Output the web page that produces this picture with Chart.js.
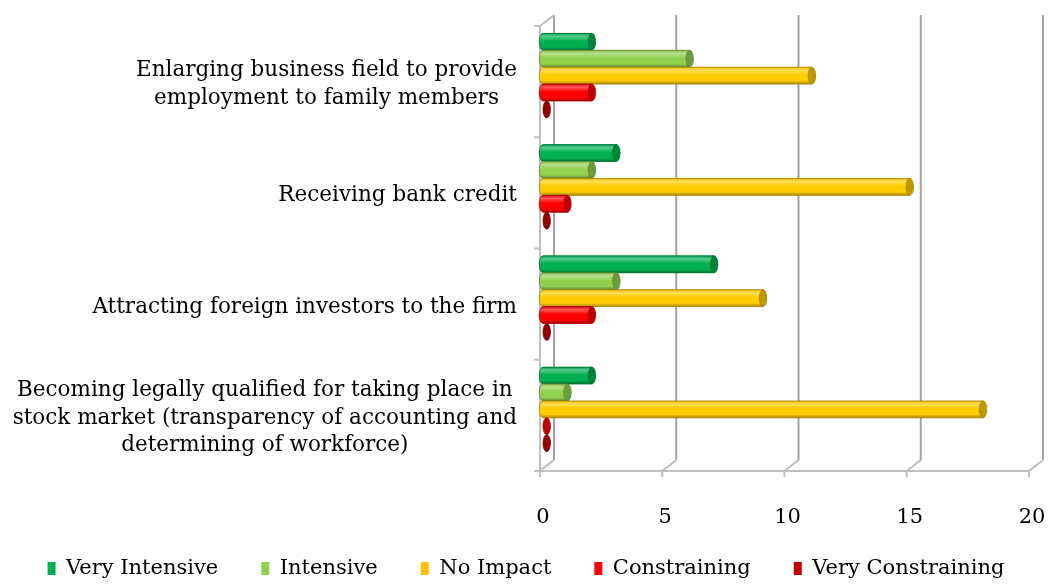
<!DOCTYPE html>
<html>
<head>
<meta charset="utf-8">
<script src="https://cdn.jsdelivr.net/npm/chart.js@4.4.1/dist/chart.umd.min.js"></script>
<style>
  html, body { margin: 0; padding: 0; background: #fff; }
</style>
</head>
<body>
<canvas id="chart" width="1052" height="584"></canvas>
<script>
const categories = [
  ['Enlarging business field to provide', 'employment to family members'],
  ['Receiving bank credit'],
  ['Attracting foreign investors to the firm'],
  ['Becoming legally qualified for taking place in', 'stock market (transparency of accounting and', 'determining of workforce)']
];
const seriesNames = ['Very Intensive', 'Intensive', 'No Impact', 'Constraining', 'Very Constraining'];
const veryIntensive = [2, 3, 7, 2];
const intensive = [6, 2, 3, 1];
const noImpact = [11, 15, 9, 18];
const constraining = [2, 1, 2, 0];
const veryConstraining = [0, 0, 0, 0];
const xTicks = [0, 5, 10, 15, 20];

const legendColors = ['#00b050', '#92d050', '#ffc000', '#ff0000', '#c00000'];
const barColors = ['#00b050', '#92d050', '#ffcc00', '#ff0000', '#c00000'];
const FONT = "'DejaVu Serif', serif";

// lighten (amt > 0) or darken (amt < 0) a hex colour
function shade(hex, amt) {
  const n = parseInt(hex.slice(1), 16);
  const t = amt < 0 ? 0 : 255, p = Math.abs(amt);
  const mix = c => Math.round(c + (t - c) * p);
  return `rgb(${mix(n >> 16)},${mix((n >> 8) & 255)},${mix(n & 255)})`;
}

// ── fake 3D walls / floor (Excel look) ──
const DEPTH = { fx: -3, fy: 6, bx: 11, by: -5 };
const frame3d = {
  id: 'frame3d',
  beforeDatasetsDraw(chart) {
    const { ctx, chartArea: a, scales: { x } } = chart;
    const { fx, fy, bx, by } = DEPTH;
    ctx.save();
    ctx.lineWidth = 2;
    ctx.strokeStyle = '#a3a3a3';
    xTicks.forEach(v => {
      const px = x.getPixelForValue(v);
      ctx.beginPath();
      ctx.moveTo(px + bx, a.top + by);
      ctx.lineTo(px + bx, a.bottom + by);
      ctx.stroke();
    });
    ctx.strokeStyle = '#bfbfbf';
    ctx.beginPath();
    xTicks.forEach(v => {
      const px = x.getPixelForValue(v);
      ctx.moveTo(px + bx, a.bottom + by);
      ctx.lineTo(px + fx, a.bottom + fy);
      ctx.lineTo(px + fx, a.bottom + fy + 6);
    });
    ctx.moveTo(x.getPixelForValue(0) + fx, a.bottom + fy);
    ctx.lineTo(x.getPixelForValue(20) + fx, a.bottom + fy);
    // left wall
    ctx.moveTo(a.left + fx, a.top + fy);
    ctx.lineTo(a.left + fx, a.bottom + fy);
    ctx.moveTo(a.left + fx, a.top + fy);
    ctx.lineTo(a.left + bx, a.top + by);
    for (let i = 0; i <= categories.length; i++) {
      const py = a.top + i * (a.bottom - a.top) / categories.length + fy;
      ctx.moveTo(a.left + fx - 6, py);
      ctx.lineTo(a.left + fx, py);
    }
    ctx.stroke();
    ctx.restore();
  }
};

// ── cylinder shading over the flat bars ──
const cylinders = {
  id: 'cylinders',
  afterDatasetsDraw(chart) {
    const ctx = chart.ctx;
    chart.data.datasets.forEach((ds, i) => {
      const c = barColors[i];
      chart.getDatasetMeta(i).data.forEach(bar => {
        const { x, y, base, height } = bar.getProps(['x', 'y', 'base', 'height'], true);
        const top = y - height / 2, rx = height * 0.22, ry = height / 2;
        ctx.save();
        ctx.lineWidth = 0.8;
        ctx.strokeStyle = shade(c, -0.35);
        if (x > base) {
          const g = ctx.createLinearGradient(0, top, 0, top + height);
          g.addColorStop(0, shade(c, -0.1));
          g.addColorStop(0.18, shade(c, 0.35));
          g.addColorStop(0.45, c);
          g.addColorStop(0.8, c);
          g.addColorStop(1, shade(c, -0.35));
          ctx.beginPath();
          ctx.ellipse(base, y, rx, ry, 0, Math.PI / 2, Math.PI * 1.5);
          ctx.lineTo(x, top);
          ctx.lineTo(x, top + height);
          ctx.closePath();
          ctx.fillStyle = g;
          ctx.fill();
          ctx.stroke();
        }
        // end cap (zero values show only this)
        const cx = x > base ? x : x + rx;
        ctx.beginPath();
        ctx.ellipse(cx, y, rx, ry, 0, 0, Math.PI * 2);
        ctx.fillStyle = shade(c, -0.25);
        ctx.fill();
        ctx.stroke();
        ctx.restore();
      });
    });
  }
};

// ── category labels: block right-aligned, lines centred ──
const catLabels = {
  id: 'catLabels',
  afterDraw(chart) {
    const { ctx, chartArea: a, scales: { y } } = chart;
    ctx.save();
    ctx.font = '21.5px ' + FONT;
    ctx.fillStyle = '#000';
    ctx.textAlign = 'center';
    ctx.textBaseline = 'middle';
    categories.forEach((lines, i) => {
      const cy = y.getPixelForValue(i) + 9;
      const maxW = Math.max(...lines.map(l => ctx.measureText(l).width));
      const cx = a.left - 26 - maxW / 2;
      lines.forEach((line, j) => {
        ctx.fillText(line, cx, cy + (j - (lines.length - 1) / 2) * 27.5);
      });
    });
    ctx.restore();
  }
};

// legend sits a bit higher than the box layout would put it
const legendNudge = {
  id: 'legendNudge',
  afterLayout(chart) {
    chart.legend.top -= 17;
    chart.legend.bottom -= 17;
  }
};

const seriesData = [veryIntensive, intensive, noImpact, constraining, veryConstraining];

new Chart(document.getElementById('chart'), {
  type: 'bar',
  data: {
    labels: categories.map(l => l.join(' ')),
    datasets: seriesNames.map((name, i) => ({
      label: name,
      data: seriesData[i],
      backgroundColor: legendColors[i],
      borderWidth: 0,
      categoryPercentage: 0.76,
      barPercentage: 1.0
    }))
  },
  options: {
    responsive: false,
    animation: false,
    indexAxis: 'y',
    layout: { padding: { left: 0, right: 0, top: 20, bottom: -22 } },
    scales: {
      x: {
        min: 0, max: 20,
        ticks: { stepSize: 5, padding: 40, color: '#000', font: { family: FONT, size: 21 } },
        grid: { display: false, drawTicks: false },
        border: { display: false },
        afterFit(scale) { scale.height = 67; scale.paddingRight = 20; }
      },
      y: {
        ticks: { display: false },
        grid: { display: false, drawTicks: false },
        border: { display: false },
        afterFit(scale) { scale.width = 543; }
      }
    },
    plugins: {
      legend: {
        position: 'bottom',
        labels: { boxWidth: 8, boxHeight: 13, padding: 43, color: '#000', font: { family: FONT, size: 21 } }
      },
      tooltip: { enabled: false }
    }
  },
  plugins: [frame3d, cylinders, catLabels, legendNudge]
});
</script>
</body>
</html>
